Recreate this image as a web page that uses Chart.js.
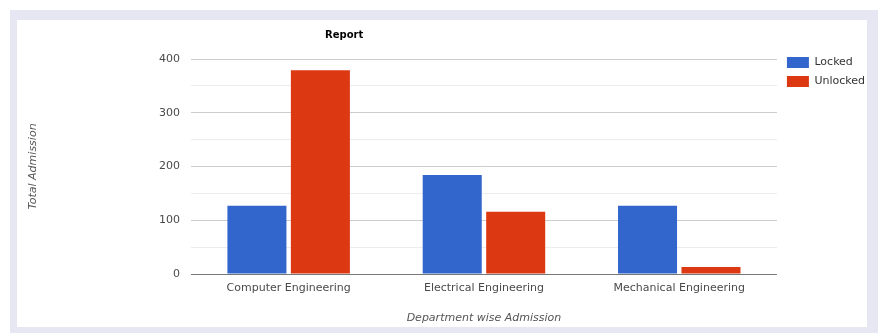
<!DOCTYPE html>
<html>
<head>
<meta charset="utf-8">
<script src="https://cdn.jsdelivr.net/npm/chart.js@4.4.1/dist/chart.umd.min.js"></script>
<style>
  html, body { margin: 0; padding: 0; background: #ffffff; }
  body { width: 884px; height: 336px; position: relative; overflow: hidden; }
  #frame { position: absolute; left: 10px; top: 10px; width: 850px; height: 307px;
           border-style: solid; border-color: #e7e6f3; border-width: 10px 11px 6px 7px; background: #ffffff; }
  #frame canvas { position: absolute; left: 0; top: 0; }
</style>
</head>
<body>
<div id="frame"><canvas id="c" width="850" height="307"></canvas></div>
<script>
const categories = ["Computer Engineering", "Electrical Engineering", "Mechanical Engineering"];
const lockedValues = [127, 184, 127];
const unlockedValues = [379, 116, 13];
const seriesNames = ["Locked", "Unlocked"];
const yTicks = [0, 100, 200, 300, 400];
const chartTitle = "Report";
const xTitle = "Department wise Admission";
const yTitle = "Total Admission";

const FONT = "'DejaVu Sans', sans-serif";

const titlePlugin = {
  id: 'leftTitle',
  afterLayout(chart) {
    const lg = chart.legend;
    if (lg) { lg.top -= 10; lg.bottom -= 10; lg.left += 2; lg.right += 2; }
  },
  afterDraw(chart) {
    const ctx = chart.ctx, a = chart.chartArea;
    ctx.save();
    ctx.font = "bold 10px " + FONT;
    ctx.fillStyle = "#000";
    ctx.textAlign = "left";
    ctx.textBaseline = "middle";
    ctx.fillText(chartTitle, a.left + 134, a.top - 24);
    ctx.restore();
  }
};

new Chart(document.getElementById('c'), {
  type: 'bar',
  data: {
    labels: categories,
    datasets: [
      { label: seriesNames[0], data: lockedValues, backgroundColor: '#3366cc', borderWidth: 0,
        barPercentage: 0.93, categoryPercentage: 0.65 },
      { label: seriesNames[1], data: unlockedValues, backgroundColor: '#dc3912', borderWidth: 0,
        barPercentage: 0.93, categoryPercentage: 0.65 }
    ]
  },
  options: {
    responsive: false,
    animation: false,
    devicePixelRatio: 1,
    layout: { padding: { top: 39, left: 10, right: -6, bottom: 0 } },
    plugins: {
      title: { display: false },
      tooltip: { enabled: false },
      legend: {
        position: 'right',
        align: 'start',
        labels: {
          boxWidth: 22, boxHeight: 11, padding: 8,
          font: { family: FONT, size: 11 }, color: '#333'
        }
      }
    },
    scales: {
      x: {
        grid: { display: false, drawTicks: false },
        border: { display: false },
        ticks: { font: { family: FONT, size: 11 }, color: '#4a4a4a', padding: 8, maxRotation: 0 },
        title: { display: true, text: xTitle, font: { family: FONT, size: 11, style: 'italic' },
                 color: '#555', padding: { top: 8, bottom: 2 } },
        afterFit(s) { s.height = 53; }
      },
      y: {
        min: 0, max: 400,
        grid: {
          drawTicks: false,
          color(c) { const v = c.tick.value; return v === 0 ? '#777' : (v % 100 === 0 ? '#cccccc' : '#ececec'); }
        },
        border: { display: false },
        ticks: {
          stepSize: 50, padding: 11, color: '#4a4a4a', font: { family: FONT, size: 11 },
          callback(v) { return yTicks.includes(v) ? String(v) : ''; }
        },
        title: { display: true, text: yTitle, font: { family: FONT, size: 11, style: 'italic' },
                 color: '#555', padding: { top: 0, bottom: 0 } },
        afterFit(s) { s.width = 164; }
      }
    }
  },
  plugins: [titlePlugin]
});
</script>
</body>
</html>
